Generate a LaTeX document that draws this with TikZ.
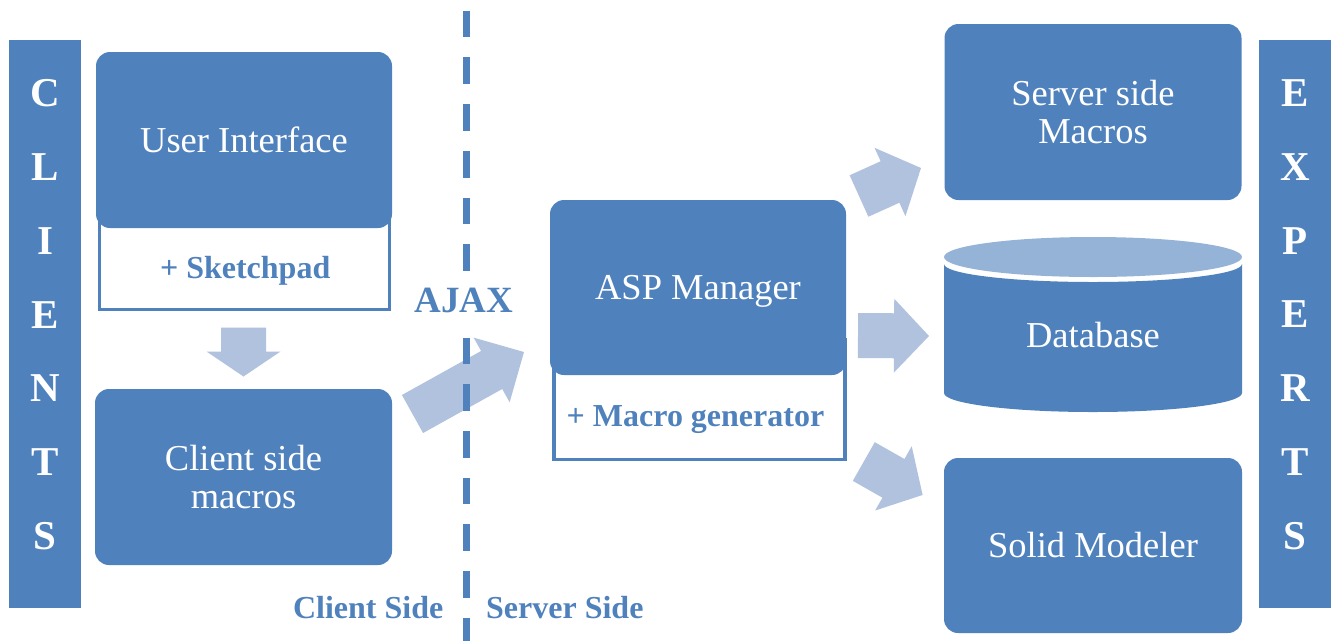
\documentclass[tikz,border=0pt]{standalone}
\usepackage{fontspec}
\setmainfont{Liberation Serif}
\usetikzlibrary{calc}

\definecolor{boxblue}{HTML}{4F81BD}
\definecolor{flowblue}{HTML}{B0C2DE}
\definecolor{lidblue}{HTML}{95B3D7}

% Block arrow from a tail coordinate to a tip coordinate:
% #1 tail, #2 tip, #3 shaft width, #4 head width, #5 head length
\newcommand\blockarrow[5]{%
  \fill[flow] let \p1=(#1), \p2=(#2),
    \n1={atan2(\y2-\y1,\x2-\x1)}, \n2={veclen(\x2-\x1,\y2-\y1)} in
    [shift={(\p1)}, rotate=\n1]
    (0,-#3/2) -- ({\n2-#5},-#3/2) -- ({\n2-#5},-#4/2) -- (\n2,0)
    -- ({\n2-#5},#4/2) -- ({\n2-#5},#3/2) -- (0,#3/2) -- cycle;}

\tikzset{
  box/.style={rectangle, rounded corners=14pt, fill=boxblue, text=white,
    align=center, inner sep=0pt, font=\fontsize{36.5}{38}\selectfont},
  subbox/.style={rectangle, draw=boxblue, line width=3.6pt, fill=white, inner sep=0pt},
  bar/.style={rectangle, fill=boxblue, inner sep=0pt, minimum width=72pt, minimum height=568.3pt},
  letters/.style={text=white, align=center, inner sep=0pt,
    font=\bfseries\fontsize{41}{73.9}\selectfont},
  tag/.style={text=boxblue, inner sep=0pt, anchor=base,
    font=\bfseries\fontsize{32}{36}\selectfont},
  flow/.style={fill=flowblue},
  divider/.style={draw=boxblue, line width=6.5pt, dash pattern=on 26.7pt off 20pt},
}

\begin{document}
\begin{tikzpicture}[x=1pt, y=-1pt]
\useasboundingbox (0,0) rectangle (1333,641);

% side bars
\node[bar] (clients) at (45,324.15) {};
\node[letters] (clientsText) at (45,314.7) {C\\L\\I\\E\\N\\T\\S};
\node[bar] (experts) at (1295,324.15) {};
\node[letters] (expertsText) at (1295,314.7) {E\\X\\P\\E\\R\\T\\S};

% client side
\node[subbox, minimum width=290.2pt, minimum height=99.3pt] (sketchbox) at (244.4,260) {};
\node[box, minimum width=296pt, minimum height=176pt] (ui) at (244,140) {User Interface};
\node[tag] (sketchpad) at (245.2,278.3) {+ Sketchpad};
\node[box, minimum width=297pt, minimum height=176pt] (cmacros) at (243.5,477) {Client side\\macros};

% server side
\node[subbox, minimum width=291pt, minimum height=119.5pt] (macrobox) at (699.2,399.8) {};
\node[box, minimum width=296pt, minimum height=175pt, text depth=0pt] (asp) at (698,287.5) {ASP Manager};
\node[tag] (macrogen) at (695.5,426) {+ Macro generator};

\node[box, minimum width=297pt, minimum height=176pt] (ssmacros) at (1093,112) {Server side\\Macros};
\node[box, minimum width=298pt, minimum height=175pt] (solid) at (1093,545.5) {Solid Modeler};

% database cylinder
\fill[boxblue] (944,264) -- (944,393)
  arc[start angle=180, end angle=0, x radius=149, y radius=19]
  -- (1242,264)
  arc[start angle=0, end angle=180, x radius=149, y radius=18] -- cycle;
\fill[lidblue] (1093,257) ellipse[x radius=149, y radius=20];
\node[text=white, inner sep=0pt, font=\fontsize{36.5}{38}\selectfont] (db) at (1093,335) {Database};

% flow arrows
\coordinate (uiOut) at (243.5,327.5);
\coordinate (cmIn) at (243.5,376.5);
\coordinate (cmOut) at (412.5,414);
\coordinate (aspIn) at (524,352);
\coordinate (aspOutA) at (859,196);
\coordinate (ssIn) at (921,168);
\coordinate (aspOutB) at (858,335.5);
\coordinate (dbIn) at (929,336);
\coordinate (aspOutC) at (863.8,461.5);
\coordinate (solidIn) at (922.7,495);
\blockarrow{uiOut}{cmIn}{45}{74}{25}
\blockarrow{cmOut}{aspIn}{43.5}{74}{37}
\blockarrow{aspOutA}{ssIn}{45.5}{75}{34}
\blockarrow{aspOutB}{dbIn}{45}{74}{35}
\blockarrow{aspOutC}{solidIn}{44.5}{74}{33.6}

% client / server divider
\coordinate (divTop) at (466.5,10.7);
\coordinate (divBottom) at (466.5,641);
\draw[divider] (divTop) -- (divBottom);

\node[tag, fill=white, inner xsep=4pt, inner ysep=8pt, font=\bfseries\fontsize{37}{40}\selectfont] (ajax) at (463.8,312.3) {AJAX};
\node[tag] (clientSide) at (368.2,618.3) {Client Side};
\node[tag] (serverSide) at (564.8,618.3) {Server Side};
\end{tikzpicture}
\end{document}
